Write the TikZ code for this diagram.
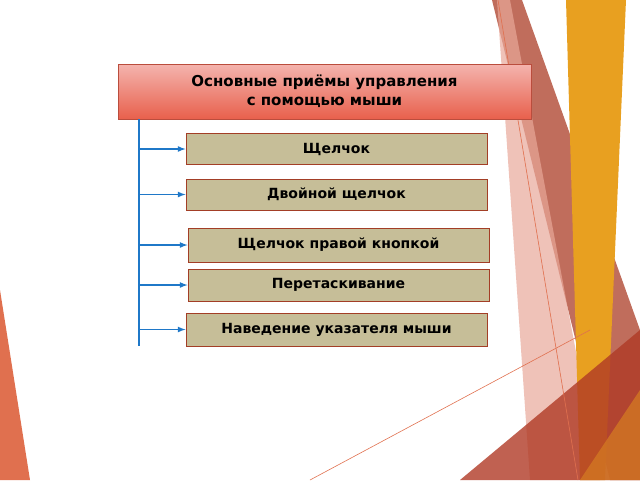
\documentclass[tikz,border=0pt]{standalone}
\usepackage{fontspec}
\setmainfont{DejaVu Sans}
\usetikzlibrary{positioning}
\definecolor{itemfill}{HTML}{C6BE98}
\definecolor{itemline}{HTML}{A33E26}
\definecolor{linkblue}{HTML}{1F78C8}
\definecolor{titletop}{HTML}{F4B4AE}
\definecolor{titlebot}{HTML}{E8604C}
\definecolor{bandred}{HTML}{B5533F}
\definecolor{bandorange}{HTML}{E8A020}
\definecolor{bandpink}{HTML}{E8A89A}
\definecolor{cornerred}{HTML}{B03A25}
\definecolor{leftred}{HTML}{E0704F}
\tikzset{
  itembox/.style={draw=itemline, line width=1pt, fill=itemfill, minimum width=301pt, minimum height=31pt, font=\bfseries\fontsize{14}{16}\selectfont, inner sep=0pt},
  link/.style={draw=linkblue, line width=1.6pt, -latex}
}
\begin{document}
\begin{tikzpicture}[x=1pt,y=-1pt]
    \useasboundingbox (0,0) rectangle (640,480);
    % background shapes
    \fill [bandred, opacity=0.85] (492,0) -- (522,0) -- (640,330) -- (640,480) -- (610,480) -- cycle;
    \fill [bandpink, opacity=0.7] (497,0) -- (510,0) -- (600,480) -- (530,480) -- cycle;
    \fill [bandorange] (566,0) -- (626,0) -- (605,480) -- (580,480) -- cycle;
    \fill [cornerred, opacity=0.8] (460,480) -- (640,330) -- (640,480) -- cycle;
    \fill [bandorange!60!cornerred, opacity=0.8] (580,480) -- (640,390) -- (640,480) -- cycle;
    \fill [leftred] (0,290) -- (30,480) -- (0,480) -- cycle;
    \draw [leftred, line width=0.6pt] (498,0) -- (578,480);
    \draw [leftred, line width=0.6pt] (310,480) -- (590,330);
    % title
    \node [draw=titlebot!80!black, line width=0.8pt, top color=titletop, bottom color=titlebot, minimum width=413pt, minimum height=55pt, align=center, font=\bfseries\fontsize{15}{19}\selectfont] (title) at (324.5,91.5) {Основные приёмы управления\\с помощью мыши};
    % items
    \node [itembox] (click) at (336.5,149) {Щелчок};
    \node [itembox] (dbl) at (336.5,194.5) {Двойной щелчок};
    \node [itembox, minimum height=34pt] (right) at (338.5,245) {Щелчок правой кнопкой};
    \node [itembox, minimum height=32pt] (drag) at (338.5,285) {Перетаскивание};
    \node [itembox, minimum height=33pt] (hover) at (336.5,329.5) {Наведение указателя мыши};
    % connectors
    \coordinate (top) at (139,119);
    \coordinate (bot) at (139,346);
    \draw [linkblue, line width=1.6pt] (top) -- (bot);
    \foreach \n in {click,dbl,right,drag,hover}
        \draw [link] (top |- \n.west) -- (\n.west);
\end{tikzpicture}
\end{document}
